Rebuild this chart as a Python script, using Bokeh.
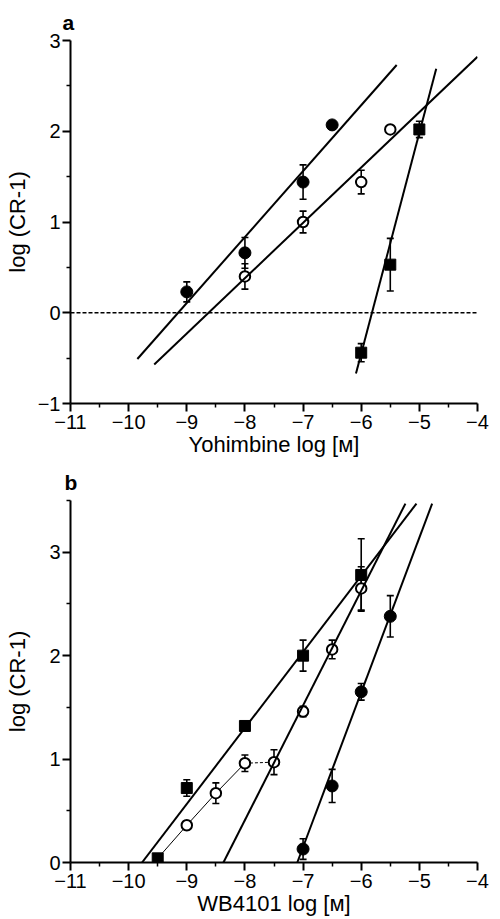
from bokeh.plotting import figure
from bokeh.models import ColumnDataSource, Whisker, TeeHead, Span, FixedTicker, Range1d
from bokeh.layouts import column
from bokeh.embed import file_html
from bokeh.resources import INLINE

# ---------------- Panel a: Yohimbine ----------------
a_fc_x = [-9, -8, -7, -6.5]
a_fc_y = [0.23, 0.66, 1.44, 2.07]
a_fc_e = [0.11, 0.17, 0.19, 0.04]

a_oc_x = [-8, -7, -6, -5.5]
a_oc_y = [0.40, 1.00, 1.44, 2.02]
a_oc_e = [0.14, 0.12, 0.13, 0.0]

a_sq_x = [-6, -5.5, -5]
a_sq_y = [-0.44, 0.53, 2.02]
a_sq_e = [0.10, 0.29, 0.09]

a_fit_fc_x = [-9.85, -5.39]
a_fit_fc_y = [-0.51, 2.73]
a_fit_oc_x = [-9.56, -4.0]
a_fit_oc_y = [-0.57, 2.82]
a_fit_sq_x = [-6.09, -4.71]
a_fit_sq_y = [-0.67, 2.69]

# ---------------- Panel b: WB4101 ----------------
b_sq_x = [-9.5, -9, -8, -7, -6]
b_sq_y = [0.04, 0.72, 1.32, 2.00, 2.78]
b_sq_e = [0.0, 0.08, 0.03, 0.15, 0.35]

b_oc_x = [-9, -8.5, -8, -7.5, -7, -6.5, -6]
b_oc_y = [0.36, 0.67, 0.96, 0.97, 1.46, 2.06, 2.65]
b_oc_e = [0.04, 0.10, 0.08, 0.12, 0.05, 0.09, 0.21]

b_fc_x = [-7, -6.5, -6, -5.5]
b_fc_y = [0.13, 0.74, 1.65, 2.38]
b_fc_e = [0.10, 0.16, 0.08, 0.20]

b_fit_sq_x = [-9.77, -5.05]
b_fit_sq_y = [0.0, 3.47]
b_fit_oc_x = [-8.37, -5.24]
b_fit_oc_y = [0.0, 3.47]
b_fit_fc_x = [-7.10, -4.78]
b_fit_fc_y = [0.0, 3.47]

b_conn_x = [-9.5, -9, -8.5, -8]
b_conn_y = [0.04, 0.36, 0.67, 0.96]
b_dash_x = [-8, -7.5]
b_dash_y = [0.96, 0.97]

x_ticks = [-11, -10, -9, -8, -7, -6, -5, -4]
x_minor = [-10.5, -9.5, -8.5, -7.5, -6.5, -5.5, -4.5]
a_y_ticks = [-1, 0, 1, 2, 3]
a_y_minor = [-0.5, 0.5, 1.5, 2.5]
b_y_ticks = [0, 1, 2, 3]
b_y_minor = [0.5, 1.5, 2.5, 3.5]

FONT = "Liberation Sans"


def minus(v):
    s = str(int(v)) if float(v).is_integer() else str(v)
    return s.replace("-", "\u2212")


def make_fig(height, y_range, y_ticks, y_minor, xlabel, panel, borders, ylab_standoff, title_offset):
    left, right, top, bottom = borders
    p = figure(width=500, height=height, output_backend="svg", toolbar_location=None,
               x_range=Range1d(-11, -4), y_range=Range1d(*y_range),
               min_border_left=left, min_border_right=right,
               min_border_top=top, min_border_bottom=bottom)
    p.outline_line_color = None
    p.grid.visible = False
    p.background_fill_color = "white"
    p.border_fill_color = "white"
    p.title.text = panel
    p.title.text_font = FONT
    p.title.text_font_size = "21px"
    p.title.text_font_style = "bold"
    p.title.text_color = "black"
    p.title.align = "left"
    p.title.offset = title_offset
    p.title.standoff = 14
    p.xaxis.ticker = FixedTicker(ticks=x_ticks, minor_ticks=x_minor)
    p.yaxis.ticker = FixedTicker(ticks=y_ticks, minor_ticks=y_minor)
    p.xaxis.major_label_overrides = {t: minus(t) for t in x_ticks}
    p.yaxis.major_label_overrides = {t: minus(t) for t in y_ticks}
    for ax in (p.xaxis[0], p.yaxis[0]):
        ax.axis_line_width = 2
        ax.axis_line_color = "black"
        ax.major_tick_line_width = 2
        ax.minor_tick_line_width = 1.5
        ax.major_tick_out = 8
        ax.major_tick_in = 0
        ax.minor_tick_out = 4
        ax.minor_tick_in = 0
        ax.major_label_text_font = FONT
        ax.major_label_text_font_size = "20px"
        ax.major_label_text_color = "black"
        ax.axis_label_text_font = FONT
        ax.axis_label_text_font_size = "22px"
        ax.axis_label_text_font_style = "normal"
        ax.axis_label_text_color = "black"
    p.xaxis.major_label_standoff = 3
    p.yaxis.major_label_standoff = 2
    p.xaxis.axis_label = xlabel
    p.xaxis.axis_label_standoff = 0
    p.yaxis.axis_label = "log (CR-1)"
    p.yaxis.axis_label_standoff = ylab_standoff
    return p


def add_series(p, xs, ys, es, kind):
    src = ColumnDataSource(dict(x=xs, y=ys, up=[y + e for y, e in zip(ys, es)],
                                lo=[y - e for y, e in zip(ys, es)]))
    w = Whisker(source=src, base="x", upper="up", lower="lo", dimension="height",
                line_width=1.6, line_color="black",
                upper_head=TeeHead(size=7, line_width=1.6, line_color="black"),
                lower_head=TeeHead(size=7, line_width=1.6, line_color="black"))
    p.add_layout(w)
    if kind == "fc":
        p.scatter("x", "y", source=src, marker="circle", size=12, fill_color="black", line_color="black")
    elif kind == "oc":
        p.scatter("x", "y", source=src, marker="circle", size=10.5, fill_color="white",
                  line_color="black", line_width=2)
    else:
        p.scatter("x", "y", source=src, marker="square", size=11, fill_color="black", line_color="black")


# Panel a
pa = make_fig(460, (-1, 3), a_y_ticks, a_y_minor, "Yohimbine log [\u1d0d]", "a",
              (70, 19, 40, 57), 5, -8)
pa.add_layout(Span(location=0, dimension="width", line_dash="4 2", line_width=1.3, line_color="black"))
add_series(pa, a_fc_x, a_fc_y, a_fc_e, "fc")
add_series(pa, a_oc_x, a_oc_y, a_oc_e, "oc")
add_series(pa, a_sq_x, a_sq_y, a_sq_e, "sq")
for fx, fy in ((a_fit_fc_x, a_fit_fc_y), (a_fit_oc_x, a_fit_oc_y), (a_fit_sq_x, a_fit_sq_y)):
    pa.line(fx, fy, line_width=2, line_color="black")

# Panel b
pb = make_fig(459, (0, 3.5), b_y_ticks, b_y_minor, "WB4101 log [\u1d0d]", "b",
              (69, 23, 40, 57), 16, -6)
pb.line(b_conn_x, b_conn_y, line_width=1, line_color="black")
pb.line(b_dash_x, b_dash_y, line_width=1, line_color="black", line_dash="3 2")
add_series(pb, b_sq_x, b_sq_y, b_sq_e, "sq")
add_series(pb, b_oc_x, b_oc_y, b_oc_e, "oc")
add_series(pb, b_fc_x, b_fc_y, b_fc_e, "fc")
for fx, fy in ((b_fit_sq_x, b_fit_sq_y), (b_fit_oc_x, b_fit_oc_y), (b_fit_fc_x, b_fit_fc_y)):
    pb.line(fx, fy, line_width=2, line_color="black")

layout = column(pa, pb, spacing=0)
open("out.html", "w").write(file_html(layout, INLINE))
